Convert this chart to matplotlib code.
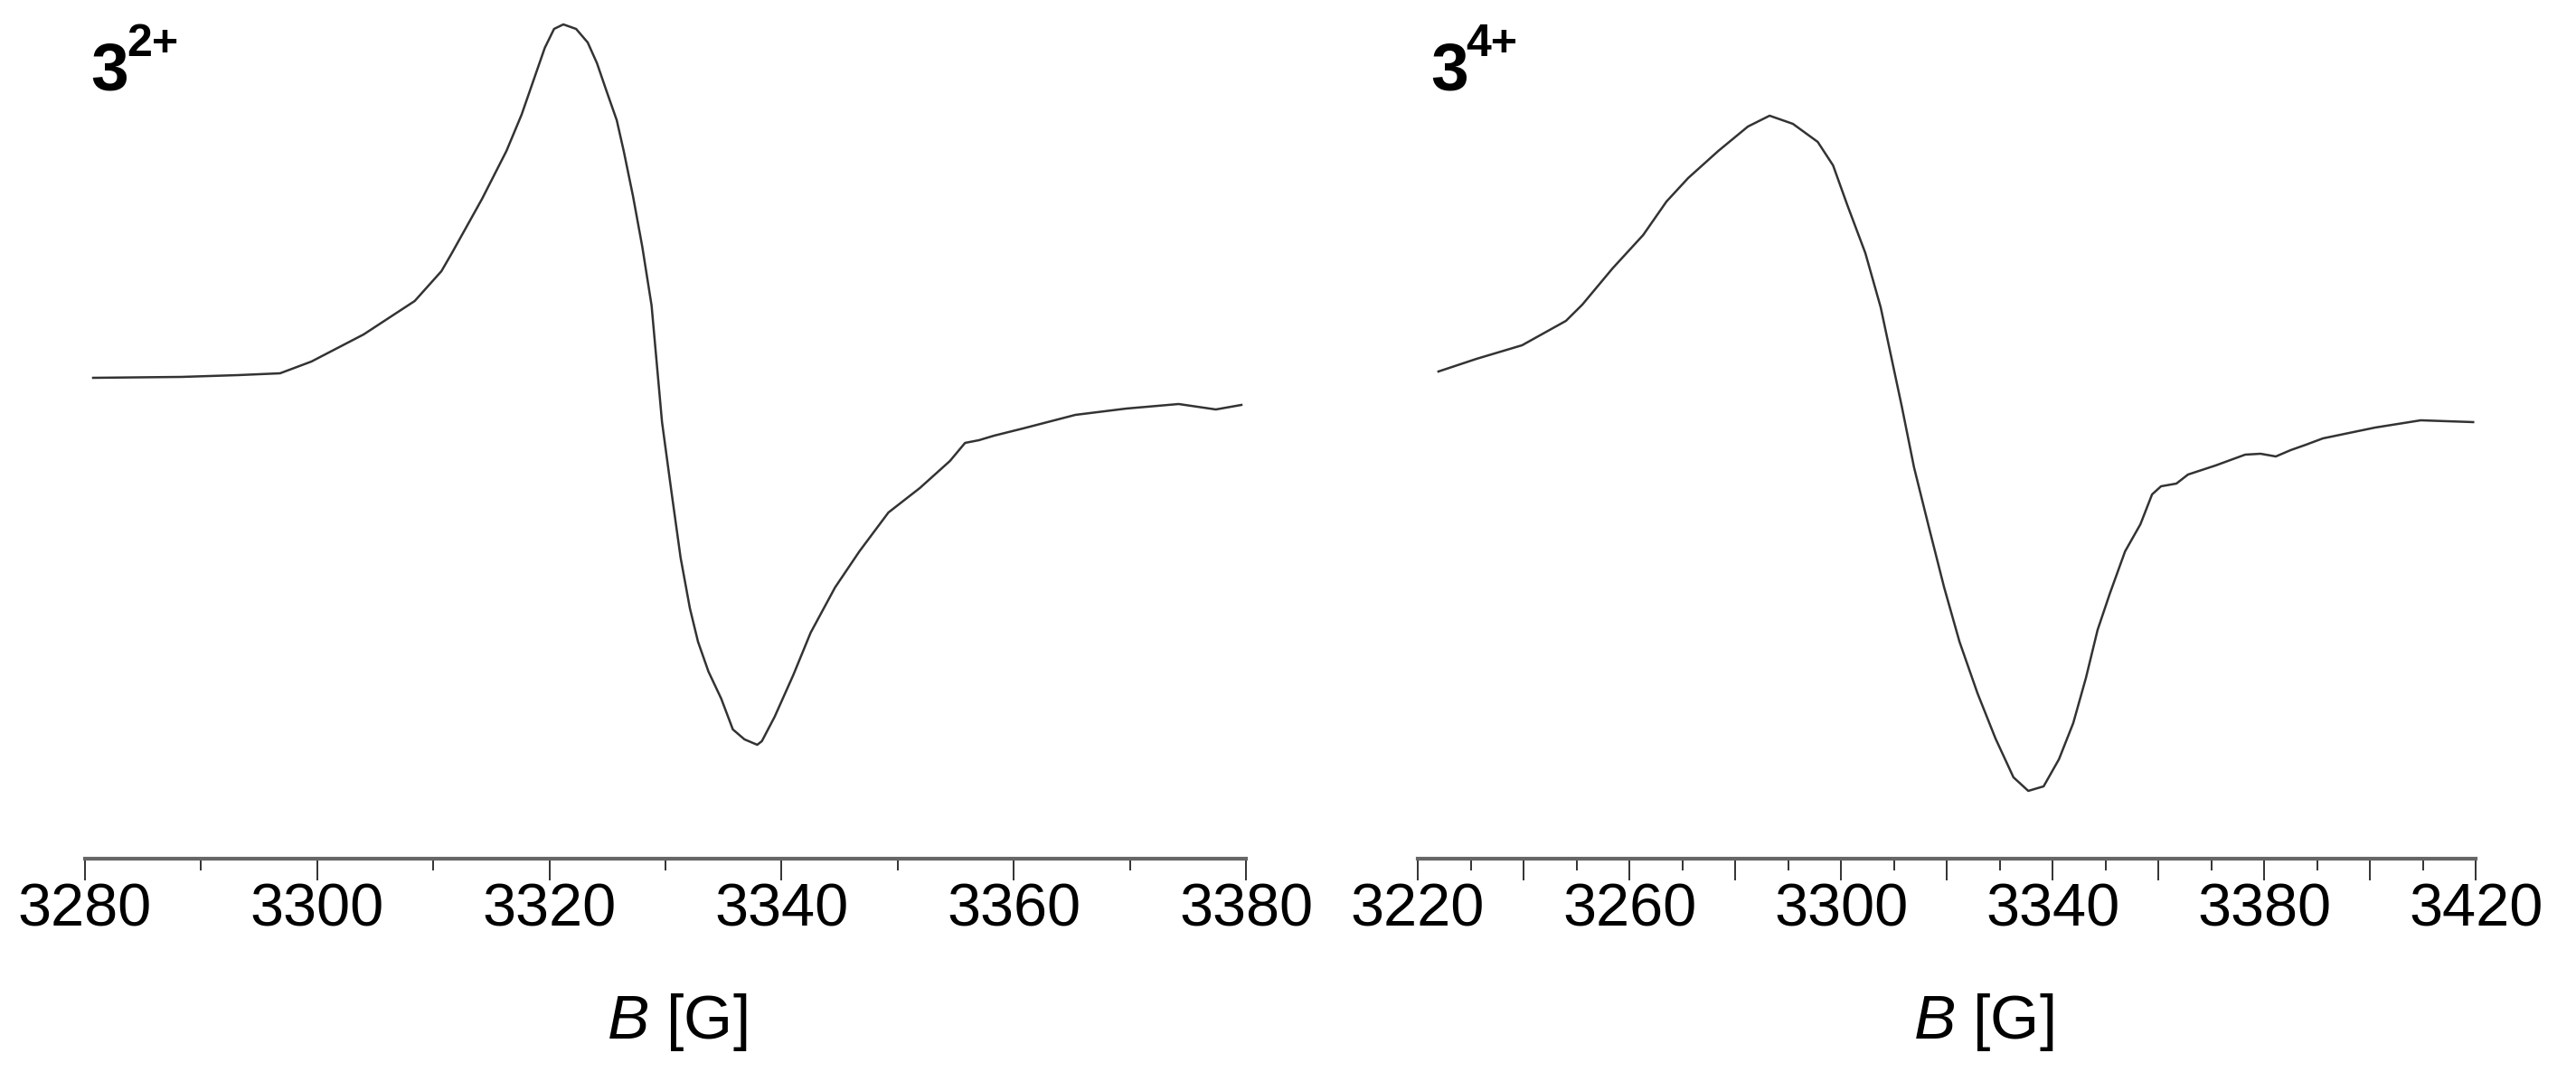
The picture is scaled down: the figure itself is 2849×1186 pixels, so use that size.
import matplotlib
matplotlib.use('Agg')
import matplotlib.pyplot as plt
from matplotlib import font_manager
from matplotlib.ticker import MultipleLocator

# EPR spectra (field in G, intensity in arbitrary units)
b_32 = [3280.7, 3288.3, 3293.2, 3296.8, 3299.5, 3304.0, 3308.4, 3310.7, 3311.6,
        3314.2, 3316.3, 3317.6, 3318.6, 3319.6, 3320.4, 3321.2, 3322.3, 3323.3,
        3324.1, 3324.9, 3325.8, 3326.4, 3327.2, 3328.0, 3328.8, 3329.7,
        3330.5, 3331.3, 3332.1, 3332.8, 3333.7, 3334.8, 3335.8, 3336.8, 3337.9,
        3338.3, 3339.4, 3341.0, 3342.5, 3344.6, 3346.7, 3349.2, 3351.9, 3354.5,
        3355.8, 3357.0, 3358.3, 3360.8, 3365.3, 3369.7, 3374.2, 3377.4, 3379.6]
i_32 = [0, 1, 3, 5, 18, 48, 85, 118, 138,
        198, 251, 291, 328, 365, 386, 391, 386, 371,
        348, 318, 285, 251, 201, 145, 80, -49,
        -125, -199, -255, -292, -325, -355, -389, -400, -406,
        -402, -375, -329, -282, -232, -192, -149, -122, -92,
        -72, -69, -64, -56, -41, -34, -29, -35, -30]

b_34 = [3223.9, 3231.1, 3239.7, 3248.0, 3251.1, 3256.8, 3262.6, 3267.0, 3271.1,
        3276.8, 3282.4, 3286.5, 3290.9, 3295.6, 3298.5, 3301.2, 3304.6, 3307.5,
        3311.5, 3313.8, 3316.6, 3319.5, 3322.4, 3325.8, 3329.2, 3332.6,
        3335.4, 3338.3, 3341.2, 3343.9, 3346.3, 3348.5, 3350.8, 3353.7, 3356.6,
        3358.8, 3360.5, 3363.4, 3365.6, 3370.8, 3376.4, 3379.3, 3382.2, 3385.0,
        3387.9, 3391.1, 3401.0, 3409.6, 3419.5]
i_34 = [7, 21, 36, 63, 81, 121, 158, 195, 221,
        251, 278, 290, 281, 261, 235, 191, 138, 78,
        -32, -99, -165, -232, -292, -349, -399, -442,
        -457, -452, -422, -382, -332, -279, -239, -192, -162,
        -129, -120, -117, -107, -97, -85, -84, -87, -80,
        -74, -67, -55, -47, -49]

xlims = [(3280, 3380), (3220, 3420)]
label_step = [20, 40]

installed = {f.name for f in font_manager.fontManager.ttflist}
font = 'Liberation Sans Narrow' if 'Liberation Sans Narrow' in installed else 'Liberation Sans'
plt.rcParams['font.family'] = [font, 'DejaVu Sans']
plt.rcParams['mathtext.fontset'] = 'custom'
plt.rcParams['mathtext.rm'] = font
plt.rcParams['mathtext.it'] = font + ':italic'

fig = plt.figure(figsize=(28.49, 11.86), dpi=100)
ax1 = fig.add_axes([0.033, 0.199, 0.4507, 0.801])
ax2 = fig.add_axes([0.5504, 0.199, 0.4107, 0.801])

for ax, b, inten, lim, step, lab_x in zip([ax1, ax2], [b_32, b_34], [i_32, i_34],
                                          xlims, label_step, [0.51, 0.535]):
    ax.plot(b, inten, color='#333333', lw=1.8)
    ax.set_xlim(*lim)
    ax.set_ylim(-532, 418)
    for s in ['top', 'right', 'left']:
        ax.spines[s].set_visible(False)
    ax.spines['bottom'].set_color('#666666')
    ax.spines['bottom'].set_linewidth(3)
    ax.set_yticks([])
    ax.xaxis.set_major_locator(MultipleLocator(20))
    ax.xaxis.set_minor_locator(MultipleLocator(10))
    ax.set_xticklabels([str(int(t)) if (int(t) - lim[0]) % step == 0 else ''
                        for t in ax.get_xticks()])
    ax.tick_params(axis='x', which='major', length=17, width=1.3, pad=2,
                   labelsize=48, color='#222222')
    ax.tick_params(axis='x', which='minor', length=9, width=1.3, color='#222222')
    ax.set_xlabel(r'$\mathit{B}$ [G]', fontsize=50)
    ax.xaxis.set_label_coords(lab_x, -0.155)

# panel labels: bold "3" with a raised charge
for x0, x_sup, charge in [(100, 140, '2+'), (1582, 1621, '4+')]:
    fig.text(x0 / 2849, 1 - 99 / 1186, '3', fontsize=54, fontweight='bold',
             va='baseline')
    fig.text(x_sup / 2849, 1 - 62 / 1186, charge, fontsize=36, fontweight='bold',
             va='baseline')

plt.savefig('out.png', dpi=100)
